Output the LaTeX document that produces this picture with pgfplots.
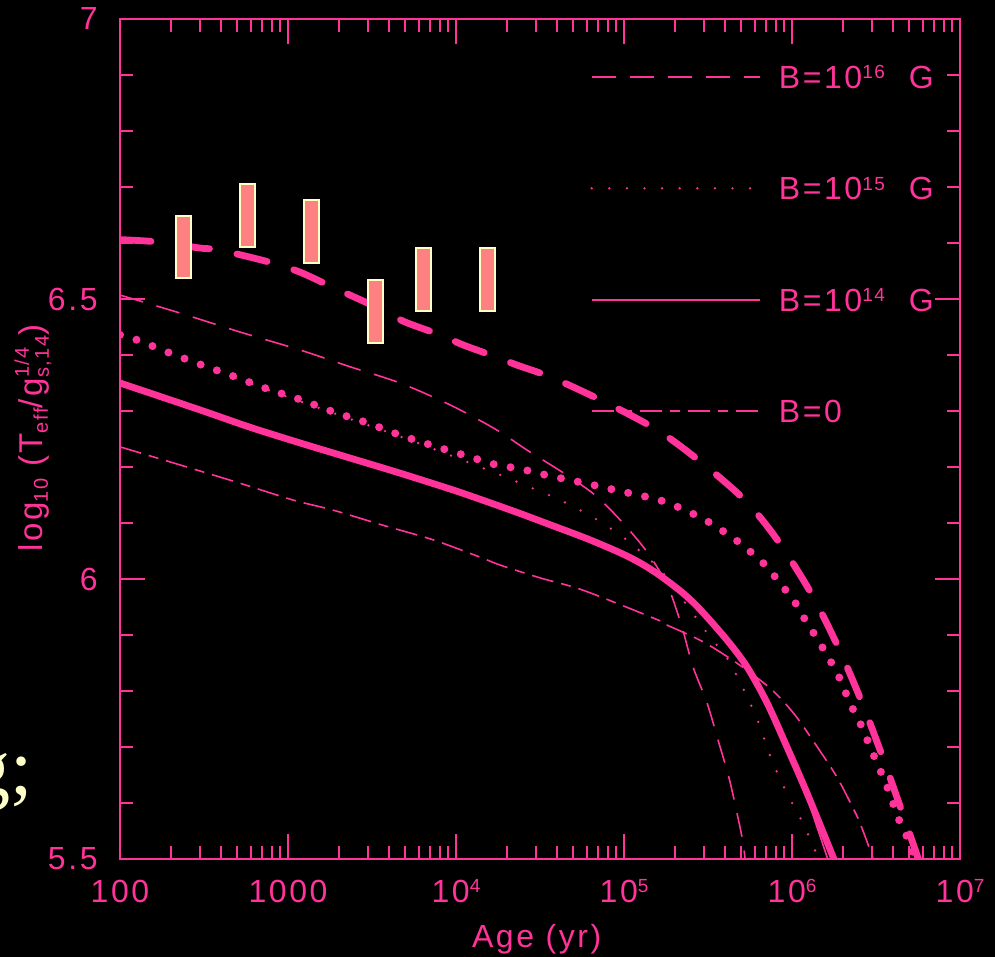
\documentclass[border=0pt]{standalone}
\usepackage{fontspec}
\setmainfont{Liberation Sans}[LetterSpace=8]
\newfontfamily\serifcream{Liberation Serif}
\usepackage{pgfplots}
\pgfplotsset{compat=1.18}
\definecolor{pinkc}{RGB}{255,51,153}
\definecolor{boxfill}{RGB}{255,128,128}
\definecolor{cream}{RGB}{255,255,200}
\newcommand{\sups}[1]{\raisebox{4.8pt}{\fontsize{9.5}{9.5}\selectfont #1}}
\newcommand{\subs}[1]{\raisebox{-2.5pt}{\fontsize{10}{10}\selectfont #1}}
\newcommand{\supsub}[2]{\rlap{\raisebox{7pt}{\fontsize{10}{10}\selectfont #1}}\raisebox{-3pt}{\fontsize{10}{10}\selectfont #2}}
\tikzset{
  bsixthin/.style={pinkc, line width=0.8pt, dash pattern=on 12pt off 7pt},
  bfivethin/.style={pinkc, line width=1.3pt, line cap=round, dash pattern=on 0pt off 8.8pt},
  bfourthin/.style={pinkc, line width=0.8pt},
  bzerothin/.style={pinkc, line width=0.8pt, dash pattern=on 11pt off 4pt on 5pt off 4pt},
  bsixthick/.style={pinkc, line width=3.4pt, line cap=round, dash pattern=on 15.5pt off 14pt},
  bfivethick/.style={pinkc, line width=4pt, line cap=round, dash pattern=on 0pt off 8.6pt},
  bfourthick/.style={pinkc, line width=3.4pt, line cap=round, line join=round},
  databox/.style={fill=boxfill, draw=cream, line width=1pt},
}
\begin{document}
\begin{tikzpicture}
\path[fill=black, use as bounding box] (0,0) rectangle (497.5pt,478.5pt);
\begin{axis}[
  at={(60pt,49pt)}, anchor=south west,
  scale only axis, width=420pt, height=420pt,
  xmode=log, log basis x=10,
  xmin=100, xmax=1e7, ymin=5.5, ymax=7,
  xtick={100,1000,10000,100000,1000000,10000000},
  xticklabels={100,1000,10\sups{4},10\sups{5},10\sups{6},10\sups{7}},
  minor xtick={200,300,400,500,600,700,800,900,2000,3000,4000,5000,6000,7000,8000,9000,2e4,3e4,4e4,5e4,6e4,7e4,8e4,9e4,2e5,3e5,4e5,5e5,6e5,7e5,8e5,9e5,2e6,3e6,4e6,5e6,6e6,7e6,8e6,9e6},
  ytick={5.5,6,6.5,7}, yticklabels={5.5,6,6.5,7},
  minor ytick={5.6,5.7,5.8,5.9,6.1,6.2,6.3,6.4,6.6,6.7,6.8,6.9},
  tick align=inside,
  major tick length=12.5pt, minor tick length=6.5pt,
  axis line style={pinkc, line width=1pt},
  tick style={pinkc, line width=1pt},
  minor tick style={pinkc, line width=1pt},
  ticklabel style={text=pinkc, font=\fontsize{16}{16}\selectfont},
  xticklabel style={anchor=base, yshift=-21.5pt},
  yticklabel style={anchor=east, inner sep=0pt, xshift=-11pt},
  xlabel={Age (yr)},
  xlabel style={at={(axis description cs:0.496,-0.1048)}, anchor=base, text=pinkc, font=\fontsize{16}{16}\selectfont},
  ylabel={log\subs{10} (T\subs{eff}/g\supsub{1/4}{s,14})},
  ylabel style={at={(axis description cs:-0.0917,0.501)}, anchor=base, text=pinkc, font=\fontsize{16.5}{16.5}\selectfont},
  legend style={at={(rel axis cs:0.5595,0.7321)}, anchor=west, draw=none, fill=none,
    inner sep=0pt, row sep=44.2pt, column sep=9pt, text=pinkc,
    font=\fontsize{16}{16}\selectfont,
    nodes={inner sep=0pt, text height=11.5pt, text depth=0pt, text=pinkc}},
  legend cell align=left,
  legend image code/.code={\draw[#1] (0pt,0pt) -- (84pt,0pt);},
]
\addlegendimage{bsixthin}
\addlegendentry{B=10\sups{16}\hspace{0.75em}G}
\addlegendimage{bfivethin}
\addlegendentry{B=10\sups{15}\hspace{0.75em}G}
\addlegendimage{bfourthin}
\addlegendentry{B=10\sups{14}\hspace{0.75em}G}
\addlegendimage{bzerothin}
\addlegendentry{B=0}

% thin curves
\addplot[bsixthin, smooth, forget plot] coordinates {
(100,6.507)(227,6.475)(518,6.441)(1178,6.409)(2339,6.379)(4645,6.35)(9204,6.311)
(17060,6.268)(26850,6.229)(42760,6.191)(67140,6.15)(98620,6.1)(139000,6.046)
(182800,5.986)(221300,5.914)(257600,5.843)(311900,5.779)(363100,5.712)(421700,5.645)
(477500,5.573)(510500,5.53)(524800,5.502)};
\addplot[bfivethin, smooth, forget plot] coordinates {
(100,6.434)(1000,6.325)(5321,6.248)(16600,6.191)(26490,6.166)(41590,6.141)(64570,6.111)
(98620,6.075)(142900,6.034)(170600,6.011)(311900,5.904)(410200,5.859)(524800,5.798)
(636800,5.741)(749900,5.68)(920400,5.621)(1.161e6,5.564)(1.409e6,5.507)(1.43e6,5.5)};
\addplot[bfourthin, smooth, forget plot] coordinates {
(100,6.35)(299,6.302)(594,6.271)(1178,6.243)(2339,6.216)(4645,6.189)(9590,6.159)
(15310,6.138)(24050,6.117)(37760,6.095)(60260,6.072)(94620,6.047)(125900,6.028)
(164000,6.006)(223900,5.975)(283100,5.946)(410000,5.891)(540000,5.843)(710000,5.779)
(933000,5.695)(1.117e6,5.646)(1.409e6,5.557)(1.614e6,5.504)(1.63e6,5.5)};
\addplot[bzerothin, smooth, forget plot] coordinates {
(100,6.236)(250,6.2)(518,6.171)(1072,6.141)(1854,6.123)(3673,6.096)(7295,6.07)
(13900,6.039)(18280,6.025)(31620,6.002)(57020,5.98)(153100,5.929)(170600,5.921)
(295100,5.888)(489800,5.846)(760300,5.802)(1.042e6,5.757)(1.429e6,5.698)
(1.854e6,5.646)(2.307e6,5.591)(2.541e6,5.564)(3.034e6,5.502)};

% thick curves
\addplot[bsixthick, smooth, forget plot] coordinates {
(100,6.606)(166,6.602)(299,6.591)(358,6.589)(518,6.579)(815,6.564)(1178,6.548)
(1730,6.525)(2339,6.507)(3673,6.48)(4966,6.459)(8035,6.436)(11020,6.418)(17540,6.396)
(23070,6.382)(37760,6.359)(79250,6.314)(163700,6.263)(311900,6.2)(539500,6.137)
(826000,6.068)(1.297e6,5.975)(1.879e6,5.879)(2.612e6,5.779)(3.483e6,5.68)(4.581e6,5.579)
(5.65e6,5.5)};
\addplot[bfivethick, smooth, forget plot] coordinates {
(100,6.436)(126,6.427)(196,6.404)(308,6.382)(484,6.361)(760,6.339)(1194,6.32)
(1879,6.298)(2951,6.279)(4645,6.257)(7295,6.238)(11480,6.22)(18280,6.202)(23070,6.198)
(36310,6.184)(58610,6.171)(94620,6.157)(148900,6.144)(190500,6.134)(237100,6.121)
(291100,6.109)(363100,6.091)(439500,6.075)(532100,6.055)(636800,6.036)(749900,6.013)
(871000,5.988)(1.014e6,5.964)(1.148e6,5.936)(1.297e6,5.911)(1.489e6,5.882)(1.683e6,5.855)
(1.879e6,5.829)(2.065e6,5.8)(2.275e6,5.771)(2.541e6,5.743)(2.793e6,5.714)(3.034e6,5.688)
(3.342e6,5.659)(3.673e6,5.63)(3.990e6,5.6)(4.335e6,5.57)(4.842e6,5.539)(5.248e6,5.512)
(5.861e6,5.5)};
\addplot[bfourthick, smooth, forget plot] coordinates {
(100,6.35)(299,6.302)(594,6.271)(1178,6.243)(2339,6.216)(4645,6.189)(9590,6.159)
(15310,6.138)(24050,6.117)(37760,6.095)(60260,6.072)(94620,6.047)(125900,6.028)
(164000,6.006)(223900,5.975)(283100,5.946)(410000,5.891)(540000,5.843)(710000,5.779)
(933000,5.70)(1.227e6,5.618)(1.754e6,5.504)(1.77e6,5.5)};

% observational boxes
\addplot[databox, forget plot] coordinates {(215.4,6.5375)(264.6,6.5375)(264.6,6.648)(215.4,6.648)} --cycle;
\addplot[databox, forget plot] coordinates {(518,6.593)(636.8,6.593)(636.8,6.705)(518,6.705)} --cycle;
\addplot[databox, forget plot] coordinates {(1245,6.564)(1531,6.564)(1531,6.677)(1245,6.677)} --cycle;
\addplot[databox, forget plot] coordinates {(2993,6.421)(3681,6.421)(3681,6.534)(2993,6.534)} --cycle;
\addplot[databox, forget plot] coordinates {(5781,6.479)(7112,6.479)(7112,6.591)(5781,6.591)} --cycle;
\addplot[databox, forget plot] coordinates {(13900,6.479)(17100,6.479)(17100,6.591)(13900,6.591)} --cycle;
\end{axis}
\node[anchor=base east, text=cream, font=\serifcream\fontsize{40}{40}\selectfont, inner sep=0pt] at (16.5pt,81pt) {g;};
\end{tikzpicture}
\end{document}
